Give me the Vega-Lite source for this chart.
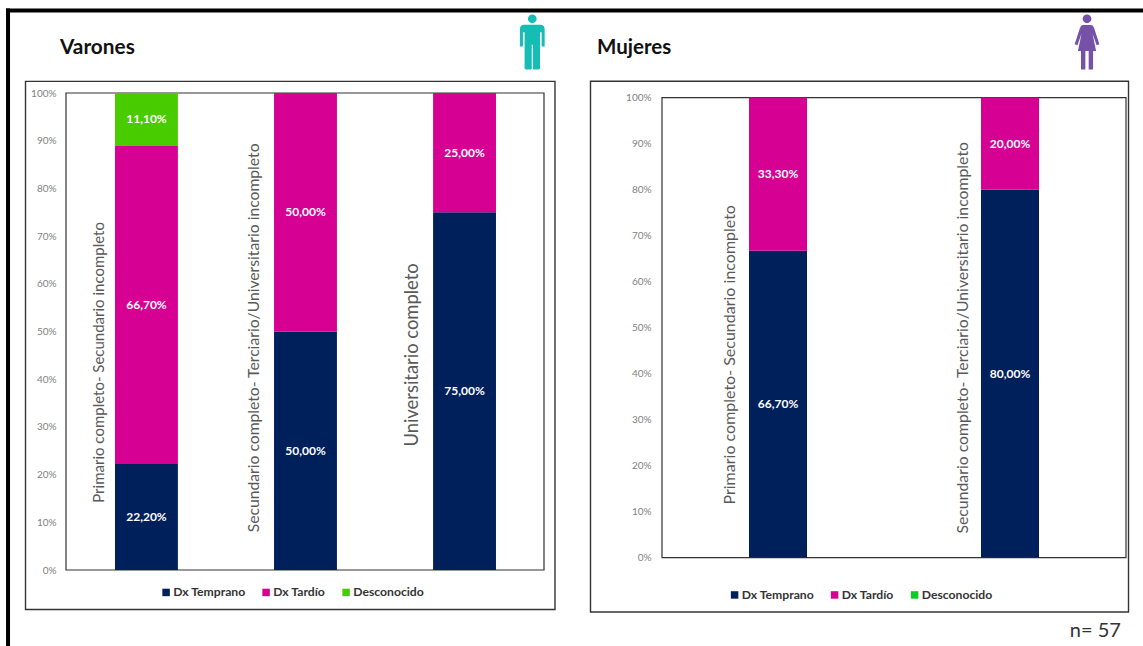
{
  "$schema": "https://vega.github.io/schema/vega-lite/v6.json",
  "padding": {"left": 5, "top": 7, "right": 0, "bottom": 0},
  "background": "white",
  "bounds": "flush",
  "spacing": 118,
  "resolve": {"scale": {"color": "independent"}, "legend": {"color": "independent"}},
  "config": {
    "font": "Lato",
    "view": {"stroke": null},
    "locale": {"number": {"decimal": ",", "thousands": ".", "grouping": [3], "currency": ["", " €"]}}
  },
  "hconcat": [
    {
      "width": 478,
      "height": 477,
      "resolve": {"scale": {"x": "independent"}},
      "layer": [
        {
          "data": {"values": [{}]},
          "layer": [
            {
              "mark": {"type": "rect", "fill": "white", "stroke": "#333333", "strokeWidth": 1.4},
              "encoding": {
                "x": {"datum": -0.0847, "type": "quantitative", "scale": {"domain": [0, 1]}, "axis": null},
                "x2": {"datum": 1.023},
                "y": {"datum": 1.0243, "type": "quantitative", "scale": {"domain": [0, 1]}},
                "y2": {"datum": -0.0828}
              }
            },
            {
              "mark": {"type": "rect", "fill": "white", "stroke": "#333333", "strokeWidth": 1.2},
              "encoding": {
                "x": {"datum": 0, "type": "quantitative"},
                "x2": {"datum": 1},
                "y": {"datum": 1, "type": "quantitative"},
                "y2": {"datum": 0}
              }
            },
            {
              "mark": {"type": "rule", "color": "black", "strokeWidth": 4, "strokeCap": "square"},
              "encoding": {
                "x": {"datum": -0.1213, "type": "quantitative"},
                "x2": {"datum": 2.249},
                "y": {"datum": 1.1728, "type": "quantitative"}
              }
            },
            {
              "mark": {"type": "rule", "color": "black", "strokeWidth": 4, "strokeCap": "square"},
              "encoding": {
                "x": {"datum": -0.1213, "type": "quantitative"},
                "y": {"datum": 1.1728, "type": "quantitative"},
                "y2": {"datum": -0.15625}
              }
            },
            {
              "mark": {"type": "text", "text": "Varones", "font": "Lato", "fontWeight": "bold", "fontSize": 20.8, "align": "left", "baseline": "middle", "color": "#111111"},
              "encoding": {
                "x": {"datum": -0.0126, "type": "quantitative"},
                "y": {"datum": 1.0948, "type": "quantitative"}
              }
            },
            {
              "mark": {
                "type": "point",
                "filled": true,
                "opacity": 1,
                "size": 3025,
                "color": "#16BDB4",
                "shape": "M-.16,-.84 A.16,.16 0 1 1 .16,-.84 A.16,.16 0 1 1 -.16,-.84 Z M-.3,-.62 L.3,-.62 Q.45,-.62 .45,-.45 L.45,.17 L.34,.17 L.34,-.35 L.28,-.35 L.28,.97 Q.28,1 .22,1 L.05,1 Q.02,1 .02,.97 L.02,.1 L-.02,.1 L-.02,.97 Q-.02,1 -.05,1 L-.22,1 Q-.28,1 -.28,.97 L-.28,-.35 L-.34,-.35 L-.34,.17 L-.45,.17 L-.45,-.45 Q-.45,-.62 -.3,-.62 Z"
              },
              "encoding": {
                "x": {"datum": 0.9755, "type": "quantitative"},
                "y": {"datum": 1.1071, "type": "quantitative"}
              }
            }
          ]
        },
        {
          "encoding": {
            "x": {
              "field": "nivel",
              "type": "nominal",
              "axis": null,
              "scale": {
                "domain": [
                  "Primario completo- Secundario incompleto",
                  "Secundario completo- Terciario/Universitario incompleto",
                  "Universitario completo"
                ],
                "paddingInner": 0.6045,
                "paddingOuter": 0.305,
                "align": 0.505
              }
            }
          },
          "layer": [
            {
              "data": {
                "values": [
                  {"nivel": "Primario completo- Secundario incompleto", "dx": "Dx Temprano", "orden": 1, "valor": 0.222},
                  {"nivel": "Primario completo- Secundario incompleto", "dx": "Dx Tardío", "orden": 2, "valor": 0.667},
                  {"nivel": "Primario completo- Secundario incompleto", "dx": "Desconocido", "orden": 3, "valor": 0.111},
                  {"nivel": "Secundario completo- Terciario/Universitario incompleto", "dx": "Dx Temprano", "orden": 1, "valor": 0.5},
                  {"nivel": "Secundario completo- Terciario/Universitario incompleto", "dx": "Dx Tardío", "orden": 2, "valor": 0.5},
                  {"nivel": "Universitario completo", "dx": "Dx Temprano", "orden": 1, "valor": 0.75},
                  {"nivel": "Universitario completo", "dx": "Dx Tardío", "orden": 2, "valor": 0.25}
                ]
              },
              "encoding": {
                "y": {
                  "field": "valor",
                  "type": "quantitative",
                  "stack": "zero",
                  "scale": {"domain": [0, 1]},
                  "axis": {
                    "title": null,
                    "format": ".0%",
                    "values": [0, 0.1, 0.2, 0.3, 0.4, 0.5, 0.6, 0.7, 0.8, 0.9, 1],
                    "grid": false,
                    "ticks": false,
                    "domain": false,
                    "labelColor": "#7F7F7F",
                    "labelFontSize": 10,
                    "labelPadding": 10,
                    "zindex": 1
                  }
                },
                "order": {"field": "orden", "type": "ordinal"}
              },
              "layer": [
                {
                  "mark": {"type": "bar"},
                  "encoding": {
                    "color": {
                      "field": "dx",
                      "type": "nominal",
                      "scale": {
                        "domain": ["Dx Temprano", "Dx Tardío", "Desconocido"],
                        "range": ["#00205C", "#D60093", "#48CC00"]
                      },
                      "legend": {
                        "title": null,
                        "orient": "none",
                        "zindex": 1,
                        "legendX": 94,
                        "legendY": 493,
                        "direction": "horizontal",
                        "columns": 3,
                        "columnPadding": 14,
                        "symbolType": "square",
                        "symbolSize": 56,
                        "symbolStrokeWidth": 0,
                        "labelOffset": 1,
                        "labelFontSize": 12.2,
                        "labelFontWeight": "bold",
                        "labelColor": "#333333"
                      }
                    }
                  }
                },
                {
                  "mark": {"type": "text", "color": "white", "fontWeight": "bold", "fontSize": 12, "baseline": "middle"},
                  "encoding": {
                    "y": {"field": "valor", "type": "quantitative", "stack": "zero", "bandPosition": 0.5},
                    "text": {"field": "valor", "type": "quantitative", "format": ".2%"}
                  }
                }
              ]
            },
            {
              "data": {"values": [{"nivel": "Primario completo- Secundario incompleto"}]},
              "mark": {"type": "text", "angle": 270, "dy": -47.2, "fontSize": 15, "color": "#595959", "baseline": "middle"},
              "encoding": {"text": {"field": "nivel"}, "y": {"datum": 0.4352, "type": "quantitative"}}
            },
            {
              "data": {"values": [{"nivel": "Secundario completo- Terciario/Universitario incompleto"}]},
              "mark": {"type": "text", "angle": 270, "dy": -51.5, "fontSize": 15.7, "color": "#595959", "baseline": "middle"},
              "encoding": {"text": {"field": "nivel"}, "y": {"datum": 0.4866, "type": "quantitative"}}
            },
            {
              "data": {"values": [{"nivel": "Universitario completo"}]},
              "mark": {"type": "text", "angle": 270, "dy": -53, "fontSize": 18.4, "color": "#595959", "baseline": "middle"},
              "encoding": {"text": {"field": "nivel"}, "y": {"datum": 0.4509, "type": "quantitative"}}
            }
          ]
        }
      ]
    },
    {
      "width": 464,
      "height": 477,
      "resolve": {"scale": {"x": "independent"}},
      "layer": [
        {
          "data": {"values": [{}]},
          "layer": [
            {
              "mark": {"type": "rect", "fill": "white", "stroke": "#333333", "strokeWidth": 1.4},
              "encoding": {
                "x": {"datum": -0.1541, "type": "quantitative", "scale": {"domain": [0, 1]}, "axis": null},
                "x2": {"datum": 1.0054},
                "y": {"datum": 1.0354, "type": "quantitative", "scale": {"domain": [0, 1], "range": [464.6, 4.6]}},
                "y2": {"datum": -0.1183}
              }
            },
            {
              "mark": {"type": "rect", "fill": "white", "stroke": "#333333", "strokeWidth": 1.2},
              "encoding": {
                "x": {"datum": 0, "type": "quantitative"},
                "x2": {"datum": 1},
                "y": {"datum": 1, "type": "quantitative"},
                "y2": {"datum": 0}
              }
            },
            {
              "mark": {"type": "text", "text": "Mujeres", "font": "Lato", "fontWeight": "bold", "fontSize": 20.5, "align": "left", "baseline": "middle", "color": "#111111"},
              "encoding": {
                "x": {"datum": -0.1401, "type": "quantitative"},
                "y": {"datum": 1.1083, "type": "quantitative"}
              }
            },
            {
              "mark": {"type": "text", "text": "n= 57", "font": "Lato", "fontSize": 20, "align": "right", "baseline": "middle", "color": "#333333"},
              "encoding": {
                "x": {"datum": 0.989, "type": "quantitative"},
                "y": {"datum": -0.1602, "type": "quantitative"}
              }
            },
            {
              "mark": {
                "type": "point",
                "filled": true,
                "opacity": 1,
                "size": 3025,
                "color": "#7552A8",
                "shape": "M-.16,-.84 A.16,.16 0 1 1 .16,-.84 A.16,.16 0 1 1 -.16,-.84 Z M-.15,-.62 L.15,-.62 Q.22,-.62 .26,-.5 L.45,.08 L.35,.12 L.2,-.3 L.33,.33 L.22,.33 L.22,1 L.06,1 L.06,.33 L-.06,.33 L-.06,1 L-.22,1 L-.22,.33 L-.33,.33 L-.2,-.3 L-.35,.12 L-.45,.08 L-.26,-.5 Q-.22,-.62 -.15,-.62 Z"
              },
              "encoding": {
                "x": {"datum": 0.916, "type": "quantitative"},
                "y": {"datum": 1.121, "type": "quantitative"}
              }
            }
          ]
        },
        {
          "encoding": {
            "x": {
              "field": "nivel",
              "type": "nominal",
              "axis": null,
              "scale": {
                "domain": [
                  "Primario completo- Secundario incompleto",
                  "Secundario completo- Terciario/Universitario incompleto"
                ],
                "paddingInner": 0.75,
                "paddingOuter": 0.375
              }
            }
          },
          "layer": [
            {
              "data": {
                "values": [
                  {"nivel": "Primario completo- Secundario incompleto", "dx": "Dx Temprano", "orden": 1, "valor": 0.667},
                  {"nivel": "Primario completo- Secundario incompleto", "dx": "Dx Tardío", "orden": 2, "valor": 0.333},
                  {"nivel": "Secundario completo- Terciario/Universitario incompleto", "dx": "Dx Temprano", "orden": 1, "valor": 0.8},
                  {"nivel": "Secundario completo- Terciario/Universitario incompleto", "dx": "Dx Tardío", "orden": 2, "valor": 0.2}
                ]
              },
              "encoding": {
                "y": {
                  "field": "valor",
                  "type": "quantitative",
                  "stack": "zero",
                  "axis": {
                    "title": null,
                    "format": ".0%",
                    "values": [0, 0.1, 0.2, 0.3, 0.4, 0.5, 0.6, 0.7, 0.8, 0.9, 1],
                    "grid": false,
                    "ticks": false,
                    "domain": false,
                    "labelColor": "#7F7F7F",
                    "labelFontSize": 10,
                    "labelPadding": 11,
                    "zindex": 1
                  }
                },
                "order": {"field": "orden", "type": "ordinal"}
              },
              "layer": [
                {
                  "mark": {"type": "bar"},
                  "encoding": {
                    "color": {
                      "field": "dx",
                      "type": "nominal",
                      "scale": {
                        "domain": ["Dx Temprano", "Dx Tardío", "Desconocido"],
                        "range": ["#00205C", "#D60093", "#0BCB25"]
                      },
                      "legend": {
                        "title": null,
                        "orient": "none",
                        "zindex": 1,
                        "legendX": 66.5,
                        "legendY": 495.5,
                        "direction": "horizontal",
                        "columns": 3,
                        "columnPadding": 14,
                        "symbolType": "square",
                        "symbolSize": 56,
                        "symbolStrokeWidth": 0,
                        "labelOffset": 1,
                        "labelFontSize": 12.2,
                        "labelFontWeight": "bold",
                        "labelColor": "#333333"
                      }
                    }
                  }
                },
                {
                  "mark": {"type": "text", "color": "white", "fontWeight": "bold", "fontSize": 12, "baseline": "middle"},
                  "encoding": {
                    "y": {"field": "valor", "type": "quantitative", "stack": "zero", "bandPosition": 0.5},
                    "text": {"field": "valor", "type": "quantitative", "format": ".2%"}
                  }
                }
              ]
            },
            {
              "data": {"values": [{"nivel": "Primario completo- Secundario incompleto"}]},
              "mark": {"type": "text", "angle": 270, "dy": -48.3, "fontSize": 16, "color": "#595959", "baseline": "middle"},
              "encoding": {"text": {"field": "nivel"}, "y": {"datum": 0.4409, "type": "quantitative"}}
            },
            {
              "data": {"values": [{"nivel": "Secundario completo- Terciario/Universitario incompleto"}]},
              "mark": {"type": "text", "angle": 270, "dy": -47, "fontSize": 15.8, "color": "#595959", "baseline": "middle"},
              "encoding": {"text": {"field": "nivel"}, "y": {"datum": 0.4778, "type": "quantitative"}}
            }
          ]
        }
      ]
    }
  ]
}
